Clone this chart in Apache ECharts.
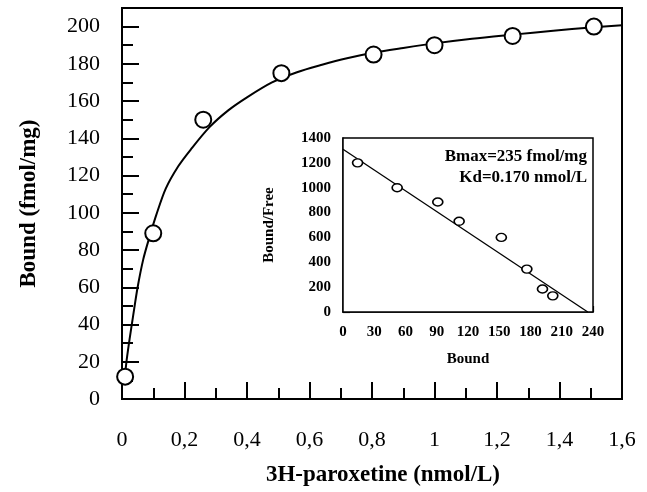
<!DOCTYPE html>
<html>
<head>
<meta charset="utf-8">
<script src="https://cdn.jsdelivr.net/npm/echarts@6/dist/echarts.min.js"></script>
<style>
html,body{margin:0;padding:0;background:#fff;}
#chart{width:647px;height:492px;}
</style>
</head>
<body>
<div id="chart"></div>
<script>
// Main saturation plot data
const satX = [0.01, 0.1, 0.26, 0.51, 0.805, 1.0, 1.25, 1.51];
const satY = [12, 89, 150, 175, 185, 190, 195, 200];
// Fitted curve
const curveX = [0.008, 0.015, 0.025, 0.035, 0.05, 0.068, 0.088, 0.11, 0.14, 0.18, 0.22, 0.28, 0.34, 0.4, 0.48, 0.56, 0.64, 0.72, 0.8, 0.9, 1.0, 1.12, 1.25, 1.38, 1.5, 1.6];
const curveY = [10, 21, 33, 44, 60, 75, 87, 99, 113, 125, 134, 146, 155, 162, 170, 175.5, 179.5, 183, 185.8, 188.5, 191, 193.5, 195.7, 197.8, 199.5, 200.7];
// Scatchard inset data
const scatX = [14, 52, 91, 111.5, 152, 176.5, 191.5, 201.4];
const scatY = [1200, 1000, 885, 730, 600, 345, 185, 130];
const lineX = [0, 235];
const lineY = [1310, 0];
// Texts
const xTitle = '3H-paroxetine (nmol/L)';
const yTitle = 'Bound (fmol/mg)';
const insetXTitle = 'Bound';
const insetYTitle = 'Bound/Free';
const noteLines = ['Bmax=235 fmol/mg', 'Kd=0.170 nmol/L'];

const zip = (a, b) => a.map((v, i) => [v, b[i]]);
const F = 'Liberation Serif, Times New Roman, serif';
const K = '#000';

const chart = echarts.init(document.getElementById('chart'), null, {renderer: 'canvas'});
chart.setOption({
  backgroundColor: '#fff',
  animation: false,
  grid: [
    {left: 122, top: 8, right: 25, bottom: 93, show: true, borderColor: K, borderWidth: 2, backgroundColor: '#fff'},
    {left: 343, top: 138, right: 54, bottom: 180, show: true, borderColor: K, borderWidth: 1.5, backgroundColor: '#fff', z: 5}
  ],
  xAxis: [
    {
      gridIndex: 0, type: 'value', min: 0, max: 1.6, interval: 0.2,
      name: xTitle, nameLocation: 'middle', nameGap: 65,
      nameTextStyle: {fontFamily: F, fontWeight: 'bold', fontSize: 23, color: K, padding: [0, 0, 0, 22]},
      axisLine: {lineStyle: {color: K, width: 2}},
      axisTick: {inside: true, length: 17, lineStyle: {color: K, width: 2}},
      minorTick: {show: true, splitNumber: 2, length: 11, lineStyle: {color: K, width: 2}},
      splitLine: {show: false},
      axisLabel: {margin: 30, fontFamily: F, fontSize: 22, color: K,
        formatter: v => String(Math.round(v * 10) / 10).replace('.', ',')}
    },
    {
      gridIndex: 1, type: 'value', min: 0, max: 240, interval: 30,
      name: insetXTitle, nameLocation: 'middle', nameGap: 40,
      nameTextStyle: {fontFamily: F, fontWeight: 'bold', fontSize: 15, color: K},
      axisLine: {lineStyle: {color: K, width: 1.5}},
      axisTick: {inside: true, length: 6, lineStyle: {color: K, width: 1.2}},
      minorTick: {show: true, splitNumber: 3, length: 4, lineStyle: {color: K, width: 1.2}},
      splitLine: {show: false},
      axisLabel: {margin: 13, fontFamily: F, fontWeight: 'bold', fontSize: 15, color: K, formatter: v => String(v)}
    }
  ],
  yAxis: [
    {
      gridIndex: 0, type: 'value', min: 0, max: 210, interval: 20,
      name: yTitle, nameLocation: 'middle', nameGap: 81, nameRotate: 90,
      nameTextStyle: {fontFamily: F, fontWeight: 'bold', fontSize: 23, color: K},
      axisLine: {lineStyle: {color: K, width: 2}},
      axisTick: {inside: true, length: 17, lineStyle: {color: K, width: 2}},
      minorTick: {show: true, splitNumber: 2, length: 11, lineStyle: {color: K, width: 2}},
      splitLine: {show: false},
      axisLabel: {margin: 22, fontFamily: F, fontSize: 22, color: K, showMaxLabel: false, formatter: v => String(v)}
    },
    {
      gridIndex: 1, type: 'value', min: 0, max: 1400, interval: 200,
      name: insetYTitle, nameLocation: 'middle', nameGap: 66, nameRotate: 90,
      nameTextStyle: {fontFamily: F, fontWeight: 'bold', fontSize: 15, color: K},
      axisLine: {lineStyle: {color: K, width: 1.5}},
      axisTick: {inside: true, length: 7, lineStyle: {color: K, width: 1.2}},
      minorTick: {show: true, splitNumber: 2, length: 4, lineStyle: {color: K, width: 1.2}},
      splitLine: {show: false},
      axisLabel: {margin: 12, fontFamily: F, fontWeight: 'bold', fontSize: 15, color: K, formatter: v => String(v)}
    }
  ],
  series: [
    {type: 'line', xAxisIndex: 0, yAxisIndex: 0, data: zip(curveX, curveY), smooth: 0.3,
      showSymbol: false, symbol: 'none', lineStyle: {color: K, width: 2}, z: 2},
    {type: 'scatter', xAxisIndex: 0, yAxisIndex: 0, data: zip(satX, satY), symbol: 'circle', symbolSize: 16,
      itemStyle: {color: '#fff', opacity: 1, borderColor: K, borderWidth: 2}, z: 3},
    {type: 'line', xAxisIndex: 1, yAxisIndex: 1, data: zip(lineX, lineY), showSymbol: false, symbol: 'none',
      lineStyle: {color: K, width: 1.3}, z: 6},
    {type: 'scatter', xAxisIndex: 1, yAxisIndex: 1, data: zip(scatX, scatY), symbol: 'circle', symbolSize: [10, 8],
      itemStyle: {color: '#fff', opacity: 1, borderColor: K, borderWidth: 1.5}, z: 7}
  ],
  graphic: [
    {type: 'text', z: 20, right: 60, top: 148, style: {text: noteLines[0], fontFamily: F, fontWeight: 'bold', fontSize: 17, fill: K, textAlign: 'right'}},
    {type: 'text', z: 20, right: 60, top: 169, style: {text: noteLines[1], fontFamily: F, fontWeight: 'bold', fontSize: 17, fill: K, textAlign: 'right'}}
  ]
});
</script>
</body>
</html>
